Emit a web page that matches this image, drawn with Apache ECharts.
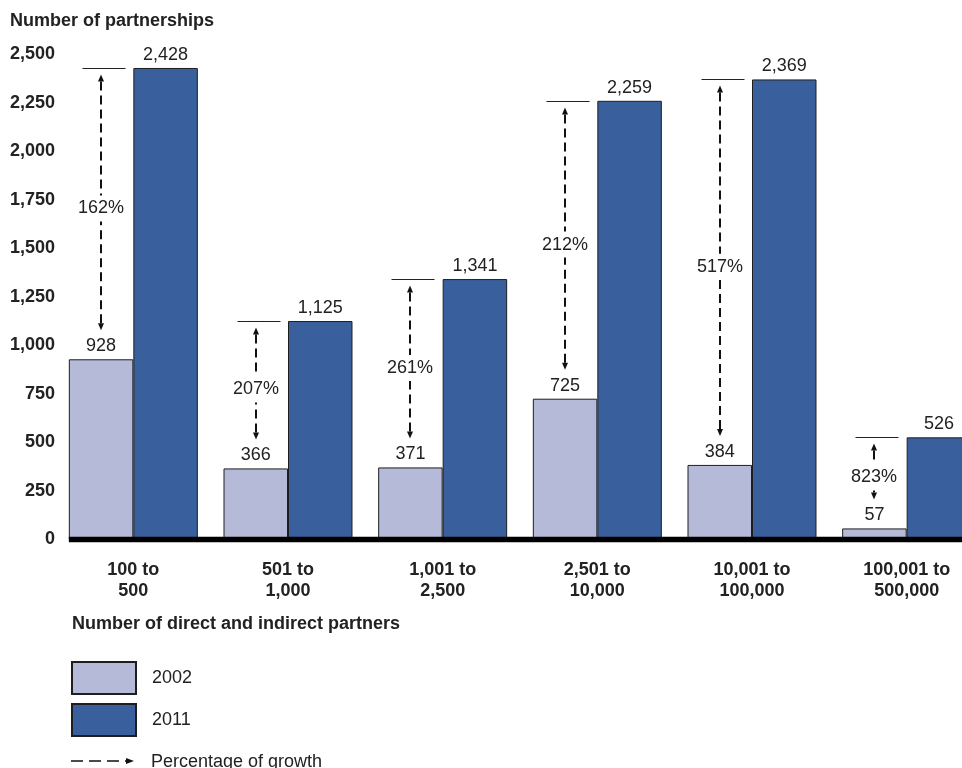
<!DOCTYPE html>
<html>
<head>
<meta charset="utf-8">
<script src="https://cdn.jsdelivr.net/npm/echarts@6/dist/echarts.min.js"></script>
<style>
  html, body { margin: 0; padding: 0; background: #ffffff; }
  #chart { width: 962px; height: 768px; }
</style>
</head>
<body>
<div id="chart"></div>
<script>
// ---- data ----
const categories = ['100 to\n500', '501 to\n1,000', '1,001 to\n2,500', '2,501 to\n10,000', '10,001 to\n100,000', '100,001 to\n500,000'];
const values2002 = [928, 366, 371, 725, 384, 57];
const values2011 = [2428, 1125, 1341, 2259, 2369, 526];
const growthLabels = ['162%', '207%', '261%', '212%', '517%', '823%'];
const seriesNames = ['2002', '2011'];
const yMin = 0, yMax = 2500, yStep = 250;
const yTitle = 'Number of partnerships';
const xTitle = 'Number of direct and indirect partners';
const growthLegend = 'Percentage of growth';

// ---- style ----
const FONT = "'Liberation Sans', Arial, Helvetica, sans-serif";
const TEXT = '#222222';
const C2002 = '#b6bad9';
const C2011 = '#39609c';
const BAR_FRAC = 0.417;

function fmt(v) { return Number(v).toLocaleString('en-US'); }

const chart = echarts.init(document.getElementById('chart'), null, { renderer: 'canvas' });

const annotData = categories.map((c, i) => [i, values2002[i], values2011[i], growthLabels[i]]);

function renderAnnot(params, api) {
  const i = api.value(0);
  const v02 = api.value(1);
  const v11 = api.value(2);
  const txt = growthLabels[i];
  const catW = api.size([1, 0])[0];
  const center = api.coord([i, 0])[0];
  const cx = Math.round(center - catW * BAR_FRAC / 2);
  const yTop = Math.round(api.coord([i, v11])[1]) + 0.5;
  const yBot = api.coord([i, v02])[1];
  const tipTop = yTop + 6;
  const tipBot = yBot - 29;
  const labelY = (tipTop + tipBot) / 2 + 6;
  const aLen = 7, aHalf = 3, gap = 13;
  const dash = { stroke: '#111111', lineWidth: 2, lineDash: [9, 5] };
  const children = [];
  children.push({ type: 'line', shape: { x1: cx - 18.5, y1: yTop, x2: cx + 24.5, y2: yTop }, style: { stroke: TEXT, lineWidth: 1 } });
  children.push({ type: 'polygon', shape: { points: [[cx, tipTop], [cx - aHalf, tipTop + aLen], [cx + aHalf, tipTop + aLen]] }, style: { fill: '#111111' } });
  children.push({ type: 'polygon', shape: { points: [[cx, tipBot], [cx - aHalf, tipBot - aLen], [cx + aHalf, tipBot - aLen]] }, style: { fill: '#111111' } });
  const s1a = tipTop + aLen, s1b = labelY - gap;
  if (s1b > s1a) children.push({ type: 'line', shape: { x1: cx, y1: s1a, x2: cx, y2: s1b }, style: dash });
  const s2a = labelY + gap, s2b = tipBot - aLen;
  if (s2b > s2a) children.push({ type: 'line', shape: { x1: cx, y1: s2b, x2: cx, y2: s2a }, style: dash });
  children.push({ type: 'text', style: { text: txt, x: cx, y: labelY, align: 'center', verticalAlign: 'middle', font: '18px ' + FONT, fill: TEXT } });
  return { type: 'group', children: children };
}

const option = {
  backgroundColor: '#ffffff',
  animation: false,
  textStyle: { fontFamily: FONT },
  title: [
    { text: yTitle, left: 10, top: 12, padding: 0, textStyle: { fontFamily: FONT, fontSize: 18, fontWeight: 'bold', color: TEXT } },
    { text: xTitle, left: 72, top: 615, padding: 0, textStyle: { fontFamily: FONT, fontSize: 18, fontWeight: 'bold', color: TEXT } }
  ],
  legend: {
    data: seriesNames,
    orient: 'vertical',
    left: 71,
    top: 661,
    itemWidth: 64,
    itemHeight: 32,
    itemGap: 8,
    padding: 0,
    icon: 'rect',
    selectedMode: false,
    textStyle: { fontFamily: FONT, fontSize: 18, color: TEXT, padding: [7, 0, 0, 11] }
  },
  grid: { left: 56, top: 54, right: -22, height: 485.5, containLabel: false, outerBoundsMode: 'none' },
  xAxis: {
    type: 'category',
    data: categories,
    axisLine: { show: false },
    axisTick: { show: false },
    axisLabel: { margin: 20, fontFamily: FONT, fontSize: 18, fontWeight: 'bold', color: TEXT, lineHeight: 21, interval: 0 }
  },
  yAxis: {
    type: 'value',
    min: yMin, max: yMax, interval: yStep,
    axisLine: { show: false },
    axisTick: { show: false },
    splitLine: { show: false },
    axisLabel: { margin: 1, fontFamily: FONT, fontSize: 18, fontWeight: 'bold', color: TEXT, formatter: fmt, padding: [3, 0, 0, 0] }
  },
  series: [
    {
      name: seriesNames[0], type: 'bar', data: values2002,
      barWidth: (BAR_FRAC * 100) + '%', barGap: '0%',
      itemStyle: { color: C2002, borderColor: '#1e1e1e', borderWidth: 1 },
      label: { show: true, position: 'top', distance: 4, fontFamily: FONT, fontSize: 18, color: TEXT, formatter: p => fmt(p.value) }
    },
    {
      name: seriesNames[1], type: 'bar', data: values2011,
      barWidth: (BAR_FRAC * 100) + '%', barGap: '0%',
      itemStyle: { color: C2011, borderColor: '#1e1e1e', borderWidth: 1 },
      label: { show: true, position: 'top', distance: 4, fontFamily: FONT, fontSize: 18, color: TEXT, formatter: p => fmt(p.value) }
    },
    {
      name: growthLegend, type: 'custom', data: annotData, renderItem: renderAnnot, z: 5, silent: true,
      encode: { x: 0, y: 2 }
    }
  ]
};

chart.setOption(option);

// axis baseline and the third legend row, positioned from the library's scales
const y0 = chart.convertToPixel({ yAxisIndex: 0 }, yMin);
const c0 = chart.convertToPixel({ xAxisIndex: 0 }, 0);
const c1 = chart.convertToPixel({ xAxisIndex: 0 }, 1);
const catW = c1 - c0;
const baseLeft = c0 - catW * BAR_FRAC;
chart.setOption({
  graphic: [
    { type: 'line', z: 100, shape: { x1: baseLeft, y1: y0, x2: chart.getWidth(), y2: y0 }, style: { stroke: '#000000', lineWidth: 5.6 } },
    { type: 'line', z: 100, shape: { x1: 71, y1: 761, x2: 126, y2: 761 }, style: { stroke: '#111111', lineWidth: 1.5, lineDash: [12, 6] } },
    { type: 'polygon', z: 100, shape: { points: [[134, 761], [126, 758], [126, 764]] }, style: { fill: '#111111' } },
    { type: 'text', z: 100, style: { text: growthLegend, x: 151, y: 762, verticalAlign: 'middle', font: '18px ' + FONT, fill: TEXT } }
  ]
});
</script>
</body>
</html>
